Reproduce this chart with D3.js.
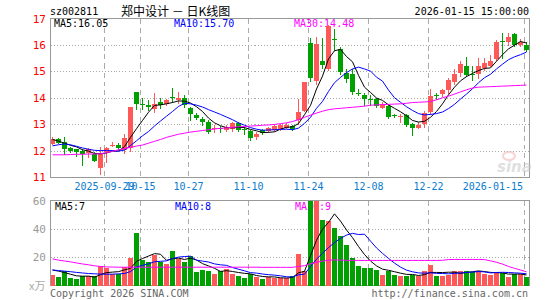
<!DOCTYPE html>
<html lang="zh-CN">
<head>
<meta charset="UTF-8" />
<title>郑中设计 日K线图</title>
<script src="https://d3js.org/d3.v7.min.js"></script>
<style>
  body { margin: 0; background: #fff; }
  svg { display: block; font-family: "DejaVu Sans Mono", monospace; font-size: 10px; }
</style>
</head>
<body>
<svg id="chart" width="545" height="300"></svg>
<script>
// trading days shown (80)
const dates = [
  "2025-09-16","2025-09-17","2025-09-18","2025-09-19","2025-09-22","2025-09-23","2025-09-24","2025-09-25","2025-09-26","2025-09-29",
  "2025-09-30","2025-10-09","2025-10-10","2025-10-13","2025-10-14","2025-10-15","2025-10-16","2025-10-17","2025-10-20","2025-10-21",
  "2025-10-22","2025-10-23","2025-10-24","2025-10-27","2025-10-28","2025-10-29","2025-10-30","2025-10-31","2025-11-03","2025-11-04",
  "2025-11-05","2025-11-06","2025-11-07","2025-11-10","2025-11-11","2025-11-12","2025-11-13","2025-11-14","2025-11-17","2025-11-18",
  "2025-11-19","2025-11-20","2025-11-21","2025-11-24","2025-11-25","2025-11-26","2025-11-27","2025-11-28","2025-12-01","2025-12-02",
  "2025-12-03","2025-12-04","2025-12-05","2025-12-08","2025-12-09","2025-12-10","2025-12-11","2025-12-12","2025-12-15","2025-12-16",
  "2025-12-17","2025-12-18","2025-12-19","2025-12-22","2025-12-23","2025-12-24","2025-12-25","2025-12-26","2025-12-29","2025-12-30",
  "2025-12-31","2026-01-05","2026-01-06","2026-01-07","2026-01-08","2026-01-09","2026-01-12","2026-01-13","2026-01-14","2026-01-15"
];

const open = [
  12.25,12.45,12.34,12.09,12.05,12.0,11.9,11.87,11.33,11.96,
  12.19,12.2,12.02,12.09,14.22,13.78,13.73,13.56,13.85,13.77,
  14.04,13.9,13.98,13.6,13.36,13.2,13.1,12.83,12.84,12.79,
  12.81,13.04,12.83,12.74,12.5,12.78,12.74,12.77,12.83,12.85,
  12.93,13.15,13.5,16.06,14.63,15.4,15.08,16.22,15.85,14.92,
  14.91,14.18,14.1,13.97,13.94,13.62,13.7,13.33,13.28,13.35,
  13.0,12.85,13.0,13.46,14.1,14.16,14.29,14.6,14.95,15.22,
  14.9,14.91,15.12,15.22,15.47,16.15,16.12,16.41,16.0,16.0
];
const high = [
  12.5,12.47,12.53,12.15,12.07,12.05,12.08,11.95,12.15,12.15,
  12.33,12.3,12.63,13.64,14.22,13.98,13.92,14.17,14.0,13.95,
  14.36,14.2,14.1,13.65,13.42,13.28,13.16,12.95,12.93,12.98,
  13.1,13.1,12.9,12.78,12.7,12.82,12.9,13.0,13.02,13.05,
  12.98,13.95,14.6,16.25,16.3,16.25,16.75,16.6,15.93,15.1,
  15.1,14.35,14.18,14.12,14.0,13.85,13.75,13.4,13.4,13.4,
  13.04,13.07,13.5,14.35,14.17,14.35,14.75,15.1,15.38,15.53,
  15.22,15.5,15.5,15.6,16.2,16.45,16.45,16.47,16.22,16.1
];
const low = [
  12.22,12.25,11.84,11.9,11.77,11.42,11.71,11.55,11.07,11.52,
  12.12,12.02,11.87,11.95,13.54,13.54,13.48,13.44,13.56,13.7,
  13.8,13.75,13.63,13.13,13.15,12.92,12.63,12.68,12.65,12.7,
  12.72,12.72,12.6,12.35,12.4,12.6,12.65,12.7,12.75,12.8,
  12.73,12.95,13.45,14.6,14.5,15.1,15.0,15.78,14.85,14.55,
  14.1,14.05,13.7,13.7,13.6,13.57,13.2,13.23,13.04,12.9,
  12.57,12.8,12.85,13.35,13.92,14.04,14.16,14.47,14.79,14.79,
  14.62,14.72,15.0,15.16,15.4,15.47,15.97,15.91,15.91,15.72
];
const close = [
  12.45,12.28,12.05,12.0,11.93,11.87,12.05,11.61,11.92,12.09,
  12.22,12.08,12.46,13.64,13.75,13.75,13.66,13.77,13.73,13.92,
  14.01,13.98,13.72,13.37,13.24,13.1,12.7,12.86,12.81,12.89,
  13.04,12.79,12.8,12.47,12.64,12.68,12.85,12.92,12.96,12.97,
  12.8,13.45,14.6,14.75,16.05,15.23,16.7,16.18,14.98,14.72,
  14.22,14.15,13.95,13.94,13.7,13.75,13.29,13.3,13.3,12.97,
  12.85,12.97,13.44,14.08,14.07,14.29,14.66,14.91,15.29,14.85,
  14.87,15.22,15.31,15.41,16.1,16.12,16.31,16.0,16.1,15.82
];

const ma5 = [
  12.42,12.36,12.28,12.2,12.14,12.03,11.98,11.89,11.88,11.91,
  11.98,11.98,12.15,12.5,12.83,13.14,13.45,13.71,13.73,13.77,
  13.82,13.88,13.87,13.8,13.66,13.48,13.23,13.05,12.94,12.87,
  12.86,12.88,12.87,12.8,12.75,12.68,12.69,12.71,12.81,12.88,
  12.9,13.02,13.36,13.71,14.33,14.82,15.47,15.78,15.83,15.56,
  15.36,14.85,14.4,14.2,13.99,13.9,13.73,13.6,13.47,13.32,
  13.14,13.08,13.11,13.26,13.48,13.77,14.11,14.4,14.64,14.8,
  14.92,15.03,15.11,15.13,15.38,15.63,15.85,15.99,16.13,16.07
];
const ma10 = [
  12.18,12.22,12.25,12.22,12.16,12.1,12.05,12.01,12.0,12.0,
  12.0,11.98,12.02,12.19,12.37,12.56,12.72,12.93,13.12,13.3,
  13.48,13.67,13.79,13.77,13.72,13.65,13.55,13.46,13.37,13.27,
  13.17,13.05,12.96,12.87,12.81,12.77,12.78,12.79,12.8,12.81,
  12.79,12.85,13.03,13.26,13.6,13.86,14.24,14.57,14.77,14.95,
  15.09,15.16,15.09,15.01,14.78,14.63,14.29,14.0,13.83,13.66,
  13.52,13.4,13.35,13.37,13.4,13.46,13.59,13.75,13.95,14.14,
  14.34,14.57,14.76,14.89,15.09,15.27,15.44,15.55,15.63,15.73
];
const ma30 = [
  11.84,11.84,11.84,11.85,11.86,11.86,11.87,11.87,11.88,11.92,
  11.97,12.03,12.08,12.12,12.17,12.21,12.28,12.35,12.42,12.5,
  12.56,12.62,12.66,12.7,12.73,12.76,12.79,12.82,12.84,12.86,
  12.88,12.9,12.91,12.93,12.94,12.96,12.97,12.99,13.02,13.05,
  13.1,13.17,13.26,13.34,13.42,13.49,13.55,13.58,13.6,13.62,
  13.64,13.66,13.68,13.72,13.73,13.74,13.75,13.76,13.77,13.79,
  13.82,13.83,13.84,13.86,13.92,14.0,14.06,14.14,14.22,14.3,
  14.37,14.4,14.41,14.42,14.43,14.44,14.45,14.46,14.47,14.48
];

// volume, 万手
const vol = [
  7.7,6.2,10.3,5.3,4.8,6.5,6.5,6.5,14.1,12.2,
  8.2,8.2,12.9,19.2,37.2,18.2,17.0,21.6,17.0,15.6,
  24.2,18.7,17.0,21.3,9.4,11.3,10.6,8.4,10.3,12.0,
  8.4,7.0,5.5,8.4,6.2,4.8,5.8,5.3,5.3,5.3,
  7.0,22.1,10.6,61,60,46.5,45.8,41.0,35.3,28.5,
  19.4,14.1,12.7,12.2,11.3,7.7,10.1,7.7,7.0,7.0,
  7.4,6.5,10.6,14.9,7.0,7.0,7.7,10.6,10.6,10.6,
  9.4,10.6,8.2,7.7,9.8,8.6,6.2,8.2,8.2,6.2
];
const vma5 = [
  11.0,10.2,9.2,8.0,6.86,6.62,6.68,5.92,7.68,9.16,
  9.5,9.84,11.12,12.14,17.14,19.14,20.9,22.64,22.2,17.88,
  19.08,19.42,18.5,19.36,18.12,15.54,13.92,12.2,10.0,10.52,
  9.94,9.22,8.64,8.26,7.1,6.38,6.14,6.1,5.48,5.3,
  5.74,9.0,10.06,21.2,32.14,40.04,44.78,50.86,45.72,39.42,
  34.0,27.66,22.0,17.38,13.94,11.6,10.8,9.8,8.76,7.9,
  7.84,7.12,7.7,9.28,9.28,9.2,9.44,9.44,8.58,9.3,
  9.78,10.36,9.88,9.3,9.14,8.98,8.1,8.1,8.2,7.48
];
const vma10 = [
  11.0,10.6,10.2,9.8,9.3,8.9,8.5,8.3,8.1,8.01,
  8.06,8.26,8.52,9.91,13.15,14.32,15.37,16.88,17.17,17.51,
  19.11,20.16,20.57,20.78,18.0,17.31,16.67,15.35,14.68,14.32,
  12.74,11.57,10.42,9.13,8.81,8.16,7.68,7.37,6.87,6.2,
  6.06,7.57,8.08,13.34,18.72,22.89,26.89,30.46,33.46,35.78,
  37.02,36.22,36.43,31.55,26.68,22.8,19.23,15.9,13.07,10.92,
  9.72,8.96,8.75,9.02,8.59,8.52,8.28,8.57,8.93,9.29,
  9.49,9.9,9.66,8.94,9.22,9.38,9.23,8.99,8.75,8.31
];
const vma30 = [
  18.9,18.0,17.4,16.8,16.0,15.3,14.7,14.0,13.5,13.2,
  13.1,13.0,13.0,13.0,13.0,13.0,13.0,13.0,13.0,13.0,
  13.0,13.0,13.0,13.0,13.0,13.0,13.0,13.0,13.0,13.0,
  13.0,13.0,13.0,13.0,13.0,12.9,12.9,12.9,12.9,12.9,
  12.9,13.5,14.1,15.5,16.5,17.3,17.9,18.2,18.0,17.9,
  17.8,17.8,17.8,17.8,17.8,17.8,17.8,17.8,17.8,17.8,
  17.8,17.8,17.8,17.8,17.8,17.9,18.4,18.5,18.5,18.5,
  18.5,18.5,18.4,17.5,16.5,15.2,13.5,12.2,11.0,9.7
];

const tickDates = ["2025-09-29","2025-10-15","2025-10-27","2025-11-10","2025-11-24","2025-12-08","2025-12-22","2026-01-15"];
const tickLabels = ["2025-09-29","10-15","10-27","11-10","11-24","12-08","12-22","2026-01-15"];
const priceTicks = [11, 12, 13, 14, 15, 16, 17];
const volTicks = [20, 40, 60];

const RED = "#ff5858", GREEN = "#00a000";
const lineColors = ["#000000", "#0000ff", "#ff00ff"];

const svg = d3.select("#chart");
const L = 50.5, R = 529.5;
const x = d3.scaleBand().domain(dates).range([49.5, 529.5]);
const y = d3.scaleLinear().domain([11, 17]).range([177, 18.5]);
const yv = d3.scaleLinear().domain([0, 60]).range([285.5, 201]);

const data = dates.map((d, i) => ({
  date: d, o: open[i], h: high[i], l: low[i], c: close[i], v: vol[i],
  up: close[i] >= open[i]
}));

// clip paths
const defs = svg.append("defs");
defs.append("clipPath").attr("id", "clipMain")
  .append("rect").attr("x", 51).attr("y", 19).attr("width", R - 51).attr("height", 158);
defs.append("clipPath").attr("id", "clipVol")
  .append("rect").attr("x", 51).attr("y", 201).attr("width", R - 51).attr("height", 85);

// header
svg.append("text").attr("x", 50).attr("y", 15).text("sz002811");
svg.append("text").attr("x", 121).attr("y", 15.5)
  .style("font-family", "'Noto Sans CJK SC', sans-serif").style("font-size", "12px")
  .text("郑中设计 － 日K线图");
svg.append("text").attr("x", 529).attr("y", 15).attr("text-anchor", "end").text("2026-01-15 15:00:00");

function panel(top, bottom, yScale, hTicks) {
  const g = svg.append("g");
  g.selectAll("line.h").data(hTicks).join("line")
    .attr("x1", L).attr("x2", R)
    .attr("y1", d => Math.round(yScale(d)) + 0.5).attr("y2", d => Math.round(yScale(d)) + 0.5)
    .attr("stroke", "#aaa").attr("stroke-dasharray", "1,2").attr("shape-rendering", "crispEdges");
  g.selectAll("line.v").data(tickDates).join("line")
    .attr("x1", d => x(d) + 1).attr("x2", d => x(d) + 1)
    .attr("y1", top).attr("y2", bottom)
    .attr("stroke", "#aaa").attr("stroke-dasharray", "5,4").attr("shape-rendering", "crispEdges");
  g.append("rect").attr("x", L).attr("y", top).attr("width", R - L).attr("height", bottom - top)
    .attr("fill", "none").attr("stroke", "#999").attr("shape-rendering", "crispEdges");
}

// main panel
panel(18.5, 177.5, y, [12, 13, 14, 15, 16]);

svg.append("g").selectAll("text").data(priceTicks).join("text")
  .attr("x", 46).attr("y", d => y(d) + 4).attr("text-anchor", "end")
  .attr("fill", "#ff0000").style("font-size", "11px").text(d => d);

// sina watermark
const wm = svg.append("g").attr("opacity", 0.55);
wm.append("ellipse").attr("cx", 509).attr("cy", 156).attr("rx", 6).attr("ry", 4)
  .attr("fill", "none").attr("stroke", "#f3b0b0").attr("stroke-width", 2);
wm.append("text").attr("x", 497).attr("y", 172)
  .style("font-family", "'DejaVu Sans', sans-serif").style("font-size", "15px")
  .style("font-style", "italic").style("font-weight", "bold")
  .attr("fill", "#c8c8c8").text("sina");

svg.append("text").attr("x", 54).attr("y", 27).attr("fill", lineColors[0]).text("MA5:16.05");
svg.append("text").attr("x", 174).attr("y", 27).attr("fill", lineColors[1]).text("MA10:15.70");
svg.append("text").attr("x", 294).attr("y", 27).attr("fill", lineColors[2]).text("MA30:14.48");

const candles = svg.append("g").attr("clip-path", "url(#clipMain)");
candles.selectAll("line").data(data).join("line")
  .attr("x1", d => x(d.date) + 3).attr("x2", d => x(d.date) + 3)
  .attr("y1", d => y(d.h)).attr("y2", d => y(d.l))
  .attr("stroke", d => d.up ? RED : GREEN).attr("shape-rendering", "crispEdges");
candles.selectAll("rect").data(data).join("rect")
  .attr("x", d => x(d.date) + 0.5).attr("width", 5)
  .attr("y", d => y(Math.max(d.o, d.c)))
  .attr("height", d => Math.max(1, Math.abs(y(d.o) - y(d.c))))
  .attr("fill", d => d.up ? RED : GREEN).attr("shape-rendering", "crispEdges");

const priceLine = d3.line().x((d, i) => x(dates[i]) + 3).y(d => y(d));
const maG = svg.append("g").attr("clip-path", "url(#clipMain)");
[ma5, ma10, ma30].forEach((s, k) => {
  maG.append("path").attr("d", priceLine(s)).attr("fill", "none")
    .attr("stroke", lineColors[k]).attr("stroke-width", 1);
});

// date labels
svg.append("g").selectAll("text").data(tickDates).join("text")
  .attr("x", (d, i) => i === tickDates.length - 1 ? 523 : x(d) + 1)
  .attr("y", 190)
  .attr("text-anchor", (d, i) => i === tickDates.length - 1 ? "end" : "middle")
  .attr("fill", "#0a7ccf")
  .text((d, i) => tickLabels[i]);

// volume panel
panel(200.5, 285.5, yv, [20, 40]);

svg.append("g").selectAll("text").data(volTicks).join("text")
  .attr("x", 46).attr("y", d => yv(d) + 4).attr("text-anchor", "end")
  .attr("fill", "#999").style("font-size", "11px").text(d => d);
svg.append("text").attr("x", 29).attr("y", 290)
  .style("font-family", "'Noto Sans CJK SC', sans-serif").style("font-size", "11px")
  .attr("fill", "#aaa").text("x万");

svg.append("text").attr("x", 55).attr("y", 210).attr("fill", lineColors[0]).text("MA5:7");
svg.append("text").attr("x", 175).attr("y", 210).attr("fill", lineColors[1]).text("MA10:8");
svg.append("text").attr("x", 295).attr("y", 210).attr("fill", lineColors[2]).text("MA30:9");

svg.append("g").attr("clip-path", "url(#clipVol)")
  .selectAll("rect").data(data).join("rect")
  .attr("x", d => x(d.date) + 0.5).attr("width", 5)
  .attr("y", d => yv(d.v)).attr("height", d => yv(0) - yv(d.v))
  .attr("fill", d => d.up ? RED : GREEN).attr("shape-rendering", "crispEdges");

const volLine = d3.line().x((d, i) => x(dates[i]) + 3).y(d => yv(d));
const vmaG = svg.append("g").attr("clip-path", "url(#clipVol)");
[vma5, vma10, vma30].forEach((s, k) => {
  vmaG.append("path").attr("d", volLine(s)).attr("fill", "none")
    .attr("stroke", lineColors[k]).attr("stroke-width", 1);
});

// footer
svg.append("text").attr("x", 50).attr("y", 297).attr("fill", "#666").text("Copyright 2026 SINA.COM");
svg.append("text").attr("x", 528).attr("y", 297).attr("text-anchor", "end").attr("fill", "#666")
  .text("http://finance.sina.com.cn");
</script>
</body>
</html>
